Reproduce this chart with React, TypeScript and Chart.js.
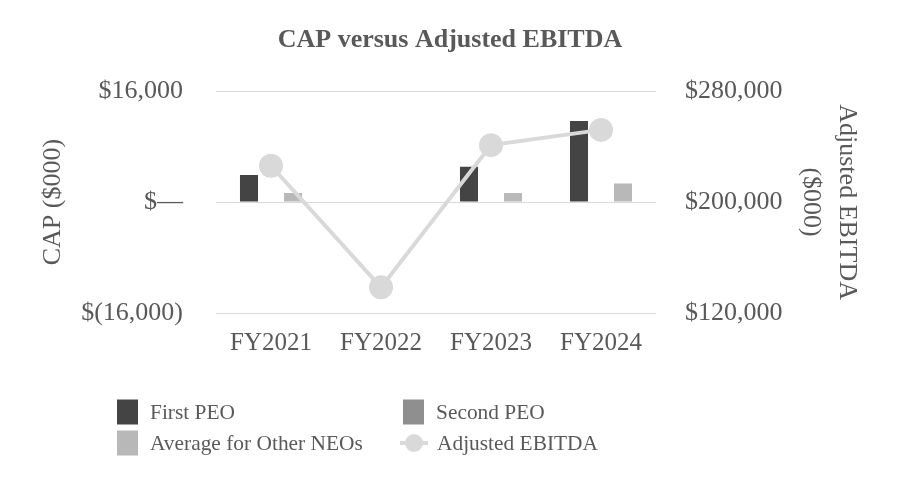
import React, { useEffect, useRef } from "react";
import { Chart, registerables } from "chart.js";

Chart.register(...registerables);

const categories = ["FY2021", "FY2022", "FY2023", "FY2024"];
const firstPEO = [3900, 0, 5100, 11700];
const secondPEO = [0, 0, 0, 0];
const otherNEOs = [1300, 0, 1300, 2700];
const adjustedEBITDA = [226200, 138500, 241100, 252100];
const leftTicks = [-16000, 0, 16000];
const rightTicks = [120000, 200000, 280000];

const FONT = '"Liberation Serif", "Times New Roman", serif';
const TEXT = "#595959";

function fmtCap(v: number): string {
  if (v === 0) return "$\u2014";
  const s = Math.abs(v).toLocaleString("en-US");
  return v < 0 ? `$(${s})` : `$${s}`;
}

const legendPlugin = {
  id: "gridLegend",
  afterDraw(chart: any) {
    const ctx = chart.ctx;
    const ds = chart.data.datasets;
    const items = [
      { d: ds[0], x: 117, y: 412 },
      { d: ds[1], x: 403, y: 412 },
      { d: ds[2], x: 117, y: 443 },
      { d: ds[3], x: 403, y: 443 },
    ];
    ctx.save();
    ctx.font = `21.4px ${FONT}`;
    ctx.textBaseline = "middle";
    ctx.textAlign = "left";
    for (const it of items) {
      const d: any = it.d;
      if (d.type === "line") {
        ctx.strokeStyle = d.borderColor;
        ctx.lineWidth = 4;
        ctx.beginPath();
        ctx.moveTo(it.x - 3, it.y);
        ctx.lineTo(it.x + 25, it.y);
        ctx.stroke();
        ctx.fillStyle = d.pointBackgroundColor;
        ctx.beginPath();
        ctx.arc(it.x + 11, it.y, 9, 0, Math.PI * 2);
        ctx.fill();
      } else {
        ctx.fillStyle = d.backgroundColor;
        ctx.fillRect(it.x, it.y - 12.5, 21, 25);
      }
      ctx.fillStyle = TEXT;
      ctx.fillText(d.label, it.x + (d.type === "line" ? 34 : 33), it.y + 1);
    }
    ctx.restore();
  },
};

export default function App() {
  const ref = useRef<HTMLCanvasElement | null>(null);
  useEffect(() => {
    if (!ref.current) return;
    const chart = new Chart(ref.current, {
      type: "bar",
      data: {
        labels: categories,
        datasets: [
          { label: "First PEO", data: firstPEO, backgroundColor: "#444444", yAxisID: "y", order: 1 },
          { label: "Second PEO", data: secondPEO, backgroundColor: "#8f8f8f", yAxisID: "y", order: 1 },
          { label: "Average for Other NEOs", data: otherNEOs, backgroundColor: "#b8b8b8", yAxisID: "y", order: 1 },
          {
            type: "line",
            label: "Adjusted EBITDA",
            data: adjustedEBITDA,
            yAxisID: "y1",
            borderColor: "#d9d9d9",
            backgroundColor: "#d9d9d9",
            pointBackgroundColor: "#d9d9d9",
            pointBorderWidth: 0,
            pointRadius: 12,
            borderWidth: 4,
            order: 0,
          } as any,
        ],
      },
      options: {
        responsive: false,
        animation: false,
        layout: { padding: { left: 0, right: 0, top: 0, bottom: 137 } },
        datasets: { bar: { categoryPercentage: 0.6, barPercentage: 0.82 } },
        plugins: {
          legend: { display: false },
          tooltip: { enabled: false },
          title: {
            display: true,
            text: "CAP versus Adjusted EBITDA",
            color: TEXT,
            font: { family: FONT, size: 26, weight: "bold", lineHeight: 1.2 },
            padding: { top: 25, bottom: 35 },
          },
        },
        scales: {
          x: {
            grid: { display: false, drawTicks: false },
            border: { display: false },
            ticks: { color: TEXT, font: { family: FONT, size: 25 }, padding: 15 },
            afterFit: (s: any) => { s.height = 50; },
          },
          y: {
            position: "left",
            min: -16000,
            max: 16000,
            afterBuildTicks: (s: any) => { s.ticks = leftTicks.map((v) => ({ value: v })); },
            grid: { color: "#d9d9d9", lineWidth: 1, drawTicks: false },
            border: { display: false },
            ticks: { color: TEXT, font: { family: FONT, size: 26 }, padding: 33, callback: (v: any) => fmtCap(Number(v)) },
            title: {
              display: true,
              text: "CAP ($000)",
              color: TEXT,
              font: { family: FONT, size: 26, lineHeight: 1.2 },
              padding: { top: 38, bottom: 0 },
            },
            afterFit: (s: any) => { s.width = 216; },
          },
          y1: {
            position: "right",
            min: 120000,
            max: 280000,
            afterBuildTicks: (s: any) => { s.ticks = rightTicks.map((v) => ({ value: v })); },
            grid: { display: false, drawTicks: false },
            border: { display: false },
            ticks: { color: TEXT, font: { family: FONT, size: 26 }, padding: 29, callback: (v: any) => "$" + Number(v).toLocaleString("en-US") },
            title: {
              display: true,
              text: ["Adjusted EBITDA", "($000)"],
              color: TEXT,
              font: { family: FONT, size: 26, lineHeight: 1.385 },
              padding: { top: 35, bottom: 0 },
            },
            afterFit: (s: any) => { s.width = 244; },
          },
        },
      },
      plugins: [legendPlugin],
    } as any);
    return () => chart.destroy();
  }, []);
  return (
    <div style={{ position: "fixed", left: 0, top: 0, width: 900, height: 500, background: "#fff" }}>
      <canvas ref={ref} width={900} height={500} />
    </div>
  );
}
